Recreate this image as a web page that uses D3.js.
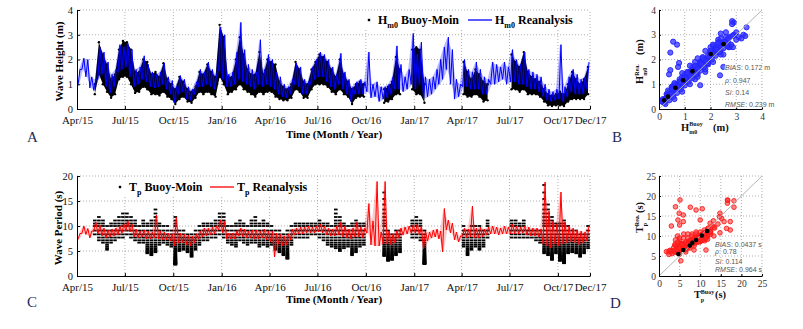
<!DOCTYPE html>
<html>
<head>
<meta charset="utf-8">
<script src="https://cdn.jsdelivr.net/npm/d3@7"></script>
<style>
  body { margin: 0; background: #fff; }
  svg { display: block; }
</style>
</head>
<body>
<svg id="fig" width="803" height="329"></svg>
<script>
// ---------------------------------------------------------------------------
// Data — 4 steps per month (about one week each), Apr 2015 .. Nov 2017
// ---------------------------------------------------------------------------

const months = [
  "2015-04","2015-05","2015-06","2015-07","2015-08","2015-09","2015-10","2015-11","2015-12",
  "2016-01","2016-02","2016-03","2016-04","2016-05","2016-06","2016-07","2016-08","2016-09",
  "2016-10","2016-11","2016-12","2017-01","2017-02","2017-03","2017-04","2017-05","2017-06",
  "2017-07","2017-08","2017-09","2017-10","2017-11"
];
const timeTicks = ["2015-04","2015-07","2015-10","2016-01","2016-04","2016-07","2016-10",
                   "2017-01","2017-04","2017-07","2017-10","2017-12"];

// Hm0 reanalysis, weekly peaks and troughs (m)
const hsReaHi = [
  1.6,2.05,2.0,1.3,  1.2,2.5,2.3,1.9,  1.4,1.6,2.6,2.5,  2.65,2.4,1.6,1.7,
  2.15,1.8,1.5,1.4,  1.5,1.85,1.3,1.15, 0.9,1.35,1.2,0.9, 0.8,1.1,1.6,1.5,
  1.9,1.6,1.4,3.3,   3.0,1.4,1.5,2.3,  3.5,2.4,1.8,1.6,  1.5,2.8,1.6,2.2,
  2.0,1.5,1.3,1.0,   0.9,1.2,1.85,1.7, 1.2,1.1,1.7,2.0,  2.3,2.2,2.0,1.7,
  1.4,2.25,1.5,1.2,  0.9,1.1,1.2,1.1,  2.3,1.0,1.1,0.9,  0.9,1.0,1.3,2.55,
  1.8,1.3,1.6,3.05,  2.2,2.7,1.3,1.2,  1.3,1.6,2.0,2.5,  2.9,2.4,1.2,1.0,
  2.0,1.6,1.5,1.9,   1.6,1.3,1.2,1.9,  1.8,1.7,1.9,1.7,  2.4,2.0,1.8,2.3,
  1.6,1.5,1.4,1.3,   1.0,0.8,0.7,0.8,  2.6,0.9,1.3,1.6,  1.4,1.2,1.3,1.9
];
const hsReaLo = [
  0.95,1.6,1.3,0.85, 0.75,1.2,1.4,0.9, 0.65,0.9,1.5,1.6, 1.7,1.3,0.9,1.0,
  1.2,1.1,0.9,0.85,  0.9,1.0,0.8,0.6,  0.25,0.6,0.7,0.4, 0.35,0.6,0.9,0.9,
  1.0,0.9,0.8,1.6,   1.2,0.9,0.9,1.0,  1.2,1.1,1.0,0.9,  0.8,1.0,0.9,1.0,
  0.9,0.8,0.6,0.5,   0.45,0.6,1.0,0.9, 0.6,0.6,1.0,1.2,  1.3,1.3,1.1,0.9,
  0.8,1.0,0.8,0.6,   0.3,0.6,0.6,0.6,  0.7,0.45,0.5,0.3, 0.4,0.45,0.6,0.8,
  0.8,0.7,0.8,1.0,   0.8,1.0,0.4,0.5,  0.6,0.8,1.0,1.2,  1.6,1.0,0.4,0.5,
  0.9,0.9,0.8,0.8,   0.8,0.6,0.6,1.0,  1.0,1.1,1.2,1.0,  1.1,1.1,1.0,1.0,
  0.9,0.8,0.8,0.7,   0.5,0.35,0.3,0.35, 0.4,0.3,0.5,0.7, 0.6,0.6,0.6,0.8
];
// Hm0 buoy Moin, weekly upper and lower edge of the dots (m); null = no buoy data
const hsBuoyHi = [
  null,null,null,null, 1.0,2.7,2.2,1.8, 1.2,1.4,2.4,2.75, 2.7,2.4,1.5,1.5,
  2.0,1.9,1.4,1.5,   1.3,1.85,1.2,1.0, 0.8,1.3,1.1,0.8,  0.7,0.9,1.5,1.4,
  1.8,1.5,1.3,3.4,   2.9,1.3,1.3,2.0,  2.9,2.2,1.6,1.4,  1.4,2.3,1.4,2.0,
  1.9,1.8,1.1,0.9,   0.8,1.0,1.9,1.6,  1.1,1.0,1.6,1.9,  2.2,2.1,1.9,1.6,
  1.3,2.0,1.4,1.1,   0.8,1.0,1.1,1.0,  null,null,null,null, 0.8,0.9,1.1,2.1,
  1.6,null,null,2.4, 2.5,2.4,1.0,null, null,null,null,null, null,null,null,null,
  1.9,1.5,1.2,1.6,   1.4,1.1,1.0,null, null,null,null,null, 2.2,1.9,1.7,2.3,
  1.5,1.3,1.2,1.1,   0.8,0.6,0.55,0.6, 0.7,0.6,1.0,1.5,  1.2,1.0,1.2,1.7
];
const hsBuoyLo = [
  null,null,null,null, 0.6,1.4,1.0,0.7, 0.45,0.6,1.2,1.3, 1.3,1.0,0.65,0.7,
  0.9,0.8,0.6,0.6,   0.55,0.7,0.5,0.4, 0.2,0.4,0.5,0.3,  0.25,0.45,0.7,0.6,
  0.7,0.6,0.5,1.3,   1.0,0.6,0.7,0.8,  1.0,0.8,0.7,0.6,  0.5,0.7,0.6,0.7,
  0.7,0.5,0.4,0.35,  0.35,0.45,0.8,0.7, 0.45,0.45,0.8,1.0, 1.0,1.0,0.9,0.7,
  0.6,0.8,0.6,0.5,   0.2,0.45,0.5,0.5, null,null,null,null, 0.25,0.3,0.4,0.6,
  0.6,null,null,0.8, 0.6,0.6,0.25,null, null,null,null,null, null,null,null,null,
  0.6,0.5,0.5,0.6,   0.5,0.3,0.35,null, null,null,null,null, 0.8,0.8,0.7,0.8,
  0.6,0.6,0.6,0.5,   0.3,0.15,0.12,0.15, 0.15,0.12,0.3,0.4, 0.4,0.4,0.4,0.6
];

// Tp reanalysis, weekly peaks and troughs (s)
const tpReaHi = [
  8.5,10.0,9.5,9.0,  10.8,10.2,9.6,9.2, 9.4,9.6,10.0,10.4, 11.0,10.4,9.4,9.0,
  9.2,9.0,8.8,12.2,  9.0,8.8,8.6,8.4,  11.8,8.6,8.4,8.2,  8.0,8.4,9.0,9.6,
  9.6,9.8,10.0,11.2, 11.0,8.6,8.6,9.0, 9.6,9.4,9.0,9.2,  9.2,9.0,9.4,9.0,
  9.0,8.6,8.4,8.0,   8.4,9.4,9.6,9.8,  9.8,10.0,9.8,10.0, 10.4,10.0,9.6,9.4,
  10.0,10.8,10.0,9.4, 9.6,10.8,9.8,9.6, 14.5,11.0,18.9,8.8, 18.9,9.0,8.4,9.0,
  9.6,9.8,10.0,10.2, 10.4,10.0,9.0,8.8, 9.2,9.4,9.0,13.5, 11.2,10.6,8.8,8.0,
  9.6,9.4,14.0,9.6,  9.8,9.4,9.8,10.0, 9.8,9.6,10.0,9.8,  10.4,10.0,9.8,10.0,
  9.8,9.6,9.6,9.4,   18.8,13.0,11.0,10.4, 16.8,10.8,10.0,9.6, 9.2,9.0,8.8,10.0
];
const tpReaLo = [
  7.3,8.5,8.3,7.6,   9.0,8.4,8.0,7.6,  7.8,8.0,8.2,8.6,  9.0,8.8,7.8,7.6,
  7.8,7.4,7.4,7.6,   7.4,7.2,7.2,7.0,  6.0,6.6,6.6,6.2,  6.0,6.6,7.4,7.8,
  8.0,8.2,8.4,9.2,   8.6,7.4,7.4,7.4,  8.0,7.8,7.6,7.6,  7.4,7.4,7.6,7.2,
  6.8,3.8,6.4,6.0,   6.2,7.2,8.2,8.4,  8.4,8.6,8.6,8.6,  8.8,8.6,8.2,8.0,
  8.0,8.2,7.8,7.6,   7.4,7.8,7.8,7.6,  8.6,6.2,6.0,6.0,  6.4,6.4,6.2,6.6,
  7.6,8.2,8.4,8.6,   8.6,8.2,5.4,7.0,  7.6,7.8,7.4,4.8,  9.2,8.6,7.2,6.8,
  8.0,7.6,7.8,7.6,   7.6,7.8,8.2,8.4,  8.4,8.2,8.4,8.4,  8.4,8.4,8.4,8.6,
  8.2,8.0,8.0,7.8,   6.4,6.0,5.6,6.4,  6.0,6.4,6.6,6.8,  6.6,6.2,6.6,7.0
];
// Tp buoy Moin, weekly highest and lowest period bin reached (s)
const tpBuoyHi = [
  null,null,null,null, 11.1,11.8,11.1,10.0, 10.5,11.1,11.8,12.5, 12.5,11.8,11.1,10.0,
  11.1,10.5,11.1,13.3, 10.5,10.0,10.0,9.1, 11.8,9.1,9.1,8.3, 8.3,9.1,10.0,10.5,
  10.5,10.5,11.1,12.5, 12.5,10.0,10.0,10.5, 11.1,10.5,10.0,11.1, 11.8,10.5,11.1,10.5,
  10.0,9.1,9.1,8.3,  9.1,10.0,10.5,10.5, 10.5,10.5,10.5,10.5, 11.1,10.5,10.5,10.0,
  13.3,11.8,10.5,10.0, 10.5,11.1,10.5,10.5, null,null,null,null, 16.7,9.1,8.3,9.1,
  9.1,null,null,11.1, 11.8,11.1,9.1,null, null,null,null,null, null,null,null,null,
  10.0,9.1,10.0,10.0, 10.0,9.1,11.1,null, null,null,null,null, 11.1,11.1,10.5,11.1,
  9.1,9.1,9.1,9.1,   18.2,14.3,11.8,10.5, 10.5,11.1,10.0,9.1, 9.1,8.3,8.3,10.0
];
const tpBuoyLo = [
  null,null,null,null, 8.3,7.1,6.7,5.3, 6.7,7.1,7.7,7.7, 8.3,7.7,7.1,6.7,
  6.7,4.4,4.2,4.8,   6.3,6.7,6.3,5.9,  2.3,5.0,5.3,4.8,  3.8,5.3,6.3,7.1,
  7.1,7.7,7.7,8.3,   7.7,6.7,6.3,5.9,  7.1,6.7,6.3,6.7,  6.7,5.9,6.3,5.9,
  6.3,5.3,4.8,4.2,   3.4,6.3,7.7,7.7,  7.7,7.7,8.3,8.3,  7.7,7.1,6.3,5.9,
  5.6,5.0,5.6,5.9,   4.2,4.8,5.9,6.3,  null,null,null,null, 4.0,3.0,3.2,4.2,
  4.8,null,null,7.7, 7.7,7.1,2.4,null, null,null,null,null, null,null,null,null,
  5.9,4.2,5.3,5.9,   5.3,5.9,7.7,null, null,null,null,null, 7.7,7.7,7.7,7.7,
  7.7,7.7,7.1,6.7,   4.4,4.2,3.2,4.4,  3.0,2.6,4.4,4.8,  4.4,3.8,4.4,5.6
];
// period bins the buoy reports (s)
const tpBins = [2.27,2.33,2.38,2.44,2.5,2.56,2.63,2.7,2.78,2.86,2.94,3.03,3.13,3.23,3.33,
  3.45,3.57,3.7,3.85,4.0,4.17,4.35,4.55,4.76,5.0,5.26,5.56,5.88,6.25,6.67,7.14,7.69,8.33,
  9.09,10.0,10.5,11.1,11.8,12.5,13.3,14.3,15.4,16.7,18.2];

// Scatter B — binned means and points outside the weekly pairs
const hsBinBuoy = [0.2,0.35,0.64,0.94,1.3,2.01,2.51];
const hsBinRea  = [0.35,0.5,0.86,1.16,1.53,2.22,2.62];
const hsExtraBuoy = [0.55,0.44,0.78,0.74,0.44,0.39,2.84,2.84,3.0,2.76,3.28,3.35,1.6,2.37,2.5,2.87,2.6,3.1,3.2,
  0.3,0.5,0.8,1.1,1.4,1.7,2.0,2.3,2.6,0.6,0.9,1.2,1.5,1.8,2.1,2.4,2.8,3.0,0.25,0.9,1.6,2.2,
  0.3,0.45,0.55,0.7,0.85,1.0,1.15,1.3,1.45,1.6,1.75,1.9,2.05,2.2,2.35,2.5,2.65,
  0.4,0.55,0.7,0.85,1.0,1.15,1.3,1.45,1.6,1.75,1.9,2.05,2.2,2.35,2.5,2.65,
  0.35,0.6,0.9,1.2,1.5,1.8,2.1,2.4,
  0.25,0.4,0.5,0.65,0.75,0.9,1.05,1.2,1.35,1.5,1.65,1.8,1.95,2.1,2.25,2.4,2.55,2.7,2.85,
  0.5,0.8,1.1,1.4,1.7,2.0,2.3];
const hsExtraRea  = [2.72,2.28,1.86,1.7,1.57,1.4,3.55,3.43,3.1,2.92,3.0,2.95,0.96,1.36,1.7,2.5,3.1,2.9,2.85,
  0.6,0.9,1.2,1.5,1.9,2.1,2.5,2.7,2.9,0.4,0.7,1.0,1.3,1.6,1.9,2.2,2.6,2.8,0.2,1.3,1.9,2.5,
  0.45,0.6,0.75,0.95,1.1,1.3,1.4,1.6,1.7,1.85,2.0,2.15,2.3,2.4,2.55,2.7,2.8,
  0.35,0.5,0.65,0.8,0.95,1.1,1.25,1.4,1.55,1.7,1.85,2.0,2.15,2.3,2.45,2.55,
  0.75,1.05,1.45,1.75,2.05,2.35,2.6,2.85,
  0.4,0.55,0.65,0.8,0.9,1.05,1.2,1.35,1.5,1.65,1.8,1.95,2.1,2.25,2.4,2.55,2.7,2.85,2.95,
  0.8,1.1,1.45,1.75,2.05,2.35,2.65];
const hsStats = [["BIAS", ": 0.172 m"], ["\u03c1", ": 0.947"], ["SI", ": 0.14"], ["RMSE", ": 0.239 m"]];

// Scatter D
const tpBinBuoy = [4.7,5.9,7.5,8.1,9.0,10.4,11.7];
const tpBinRea  = [5.5,6.5,7.6,8.3,9.0,10.1,11.25];
const tpExtraBuoy = [5.1,4.0,4.9,5.9,4.6,5.9,5.0,7.6,9.0,3.0,16.6,16.6,18.2,14.8,14.7,15.8,17.3,16.4,14.8,17.3,1.8,3.8,11.4,12.4,13.2,15.2,
  4.0,4.5,5.0,6.0,6.0,7.0,7.0,8.0,9.0,10.0,11.0,12.0,13.0,5.0,6.5,8.5,
  4.5,5.0,5.5,6.0,6.5,7.0,7.5,8.0,8.5,9.0,9.5,10.0,10.5,11.0,4.0,5.0,6.0,7.0,8.0,9.0,
  6.5,7.5,8.5,9.5,10.5,11.5,12.5,13.5,3.5,4.5];
const tpExtraRea  = [19.0,17.3,15.7,15.25,14.0,13.6,12.75,17.2,16.5,12.5,19.0,18.2,17.2,15.7,14.8,13.6,13.6,11.9,10.8,11.5,6.1,7.75,6.5,13.2,13.8,14.4,
  8.0,10.0,9.0,10.5,8.0,10.5,7.0,10.5,11.0,11.0,11.5,12.0,12.5,5.5,6.0,6.5,
  6.5,7.0,8.0,7.0,8.5,8.0,9.0,8.5,9.5,9.5,10.0,10.0,10.5,10.5,9.0,9.5,9.5,9.5,10.0,10.5,
  6.5,7.0,7.5,8.5,9.0,9.5,11.0,12.0,7.0,8.5];
const tpStats = [["BIAS", ": 0.0437 s"], ["\u03c1", ": 0.78"], ["SI", ": 0.114"], ["RMSE", ": 0.964 s"]];

const hsTicks = [0, 1, 2, 3, 4];
const tpTicks = [0, 5, 10, 15, 20];
const tpScatterTicks = [0, 5, 10, 15, 20, 25];

// ---------------------------------------------------------------------------
// Helpers
// ---------------------------------------------------------------------------

const SERIF = '"Liberation Serif","Times New Roman",serif';
const SANS = '"Liberation Sans",Arial,sans-serif';
const svg = d3.select("#fig");

const parseMonth = s => { const [y, m] = s.split("-").map(Number); return new Date(Date.UTC(y, m - 1, 1)); };

function stepTime(k, frac) {
  const start = parseMonth(months[Math.floor(k / 4)]);
  const end = new Date(Date.UTC(start.getUTCFullYear(), start.getUTCMonth() + 1, 1));
  return new Date(+start + (end - start) * ((k % 4) + frac) / 4);
}

function zigzag(hi, lo) {
  const pts = [];
  hi.forEach((h, k) => {
    pts.push([stepTime(k, 0.25), lo[k]]);
    pts.push([stepTime(k, 0.75), h]);
  });
  return pts;
}

function styleAxis(g, size) {
  g.select(".domain").attr("stroke", "#000");
  g.selectAll(".tick line").attr("stroke", "#000");
  g.selectAll(".tick text").attr("fill", "#111").attr("font-family", SERIF).attr("font-size", size);
}

function grid(g, xs, ys, x, y) {
  const [x0, x1] = x.range(), [y0, y1] = y.range();
  g.selectAll(".vg").data(xs).join("line")
    .attr("x1", d => x(d)).attr("x2", d => x(d)).attr("y1", y0).attr("y2", y1);
  g.selectAll(".hg").data(ys).join("line")
    .attr("x1", x0).attr("x2", x1).attr("y1", d => y(d)).attr("y2", d => y(d));
  g.selectAll("line").attr("stroke", "#9a9a9a").attr("stroke-width", 0.8).attr("stroke-dasharray", "1,2");
}

const x = d3.scaleUtc().domain([parseMonth("2015-04"), parseMonth("2017-12")]).range([77, 590]);
const tickDates = timeTicks.map(parseMonth);

// ---------------------------------------------------------------------------
// Time series panels
// ---------------------------------------------------------------------------

function timePanel(o) {
  const y = d3.scaleLinear().domain([o.ticks[0], o.ticks[o.ticks.length - 1]]).range(o.yRange);
  const g = svg.append("g");

  const gg = g.append("g");
  grid(gg, tickDates.slice(1), o.ticks.slice(1), x, y);

  o.drawBuoy(g, y);

  // reanalysis: faint envelope of the weekly swing, then the zigzag line itself
  const band = o.reaHi.map((h, k) => ({ t: stepTime(k, 0.5), hi: h, lo: o.reaLo[k] }));
  g.append("path").datum(band)
    .attr("fill", o.color).attr("fill-opacity", o.bandOpacity)
    .attr("d", d3.area().x(d => x(d.t)).y0(d => y(d.lo)).y1(d => y(d.hi)));

  g.append("path")
    .datum(zigzag(o.reaHi, o.reaLo))
    .attr("fill", "none")
    .attr("stroke", o.color)
    .attr("stroke-width", 1)
    .attr("stroke-linejoin", "round")
    .attr("d", d3.line().x(d => x(d[0])).y(d => y(d[1])));

  g.append("g").attr("transform", `translate(0,${o.yRange[0]})`)
    .call(d3.axisBottom(x).tickValues(tickDates).tickFormat(d3.utcFormat("%b/%y"))
      .tickSizeInner(-3).tickSizeOuter(0).tickPadding(7))
    .call(a => styleAxis(a, 11));

  g.append("g").attr("transform", "translate(77,0)")
    .call(d3.axisLeft(y).tickValues(o.ticks).tickFormat(d3.format("d"))
      .tickSizeInner(-3).tickSizeOuter(0).tickPadding(4))
    .call(a => styleAxis(a, 10.5));

  g.append("text")
    .attr("transform", `translate(${o.yLabelX},${(o.yRange[0] + o.yRange[1]) / 2 + 2}) rotate(-90)`)
    .attr("text-anchor", "middle").attr("font-family", SERIF).attr("font-weight", "bold")
    .attr("font-size", 11).text(o.yLabel);

  g.append("text")
    .attr("x", 334).attr("y", o.xLabelY)
    .attr("text-anchor", "middle").attr("font-family", SERIF).attr("font-weight", "bold")
    .attr("font-size", 11).text("Time (Month / Year)");

  // legend
  const L = o.legend;
  const lg = g.append("g").attr("font-family", SERIF).attr("font-weight", "bold");
  lg.append("rect").attr("x", L.x - 7).attr("y", L.y - 9).attr("width", L.w).attr("height", 19).attr("fill", "#fff");
  lg.append("rect").attr("x", L.x - 1.2).attr("y", L.y - 1.2).attr("width", 2.4).attr("height", 2.4).attr("fill", "#000");
  const t1 = lg.append("text").attr("x", L.x + 9).attr("y", L.y + 4).attr("font-size", 12);
  t1.append("tspan").text(o.sym);
  t1.append("tspan").attr("font-size", 8).attr("dy", 3.5).text(o.sub);
  t1.append("tspan").attr("dy", -3.5).text(" Buoy-Moin");
  lg.append("line").attr("x1", L.lx).attr("x2", L.lx + 24).attr("y1", L.y).attr("y2", L.y)
    .attr("stroke", o.color).attr("stroke-width", 1.3);
  const t2 = lg.append("text").attr("x", L.lx + 27).attr("y", L.y + 4).attr("font-size", 12);
  t2.append("tspan").text(o.sym);
  t2.append("tspan").attr("font-size", 8).attr("dy", 3.5).text(o.sub);
  t2.append("tspan").attr("dy", -3.5).text(" Reanalysis");
}

timePanel({
  ticks: hsTicks, yRange: [109, 10], color: "#0000ff", bandOpacity: 0.28,
  reaHi: hsReaHi, reaLo: hsReaLo,
  yLabel: "Wave Height (m)", yLabelX: 63, xLabelY: 138,
  sym: "H", sub: "m0",
  legend: { x: 369, y: 20, lx: 468, w: 210 },
  drawBuoy: (g, y) => {
    const pts = hsBuoyHi.map((h, k) => ({ t: stepTime(k, 0.5), hi: h, lo: hsBuoyLo[k] }));
    g.append("path").datum(pts)
      .attr("fill", "#000")
      .attr("d", d3.area().defined(d => d.hi !== null)
        .x(d => x(d.t)).y0(d => y(d.lo)).y1(d => y(d.hi)));
    g.append("g").selectAll("circle")
      .data(pts.filter(d => d.hi !== null).flatMap(d => [[d.t, d.hi], [d.t, d.lo]]))
      .join("circle").attr("cx", d => x(d[0])).attr("cy", d => y(d[1])).attr("r", 1.2).attr("fill", "#000");
  }
});

timePanel({
  ticks: tpTicks, yRange: [276, 176], color: "#ff0000", bandOpacity: 0.22,
  reaHi: tpReaHi, reaLo: tpReaLo,
  yLabel: "Wave Period (s)", yLabelX: 62, xLabelY: 303,
  sym: "T", sub: "p",
  legend: { x: 120, y: 187, lx: 210, w: 192 },
  drawBuoy: (g, y) => {
    const rows = [];
    tpBuoyHi.forEach((h, k) => {
      if (h === null) return;
      tpBins.filter(b => b >= tpBuoyLo[k] - 0.05 && b <= h + 0.05)
        .forEach(b => rows.push({ t0: stepTime(k, 0.05), t1: stepTime(k, 0.95), v: b }));
    });
    g.append("g").selectAll("rect").data(rows).join("rect")
      .attr("x", d => x(d.t0)).attr("width", d => x(d.t1) - x(d.t0))
      .attr("y", d => y(d.v) - 0.9).attr("height", 1.8).attr("fill", "#000");
  }
});

// ---------------------------------------------------------------------------
// Scatter panels
// ---------------------------------------------------------------------------

function scatterPanel(o) {
  const sx = d3.scaleLinear().domain(o.domain).range([659, 762]);
  const sy = d3.scaleLinear().domain(o.domain).range(o.yRange);
  const g = svg.append("g");
  const id = "clip" + o.name;
  g.append("clipPath").attr("id", id).append("rect")
    .attr("x", 659).attr("y", o.yRange[1]).attr("width", 103).attr("height", o.yRange[0] - o.yRange[1]);

  grid(g.append("g"), o.ticks.slice(1), o.ticks.slice(1), sx, sy);

  const pts = [];
  o.buoyHi.forEach((h, k) => {
    if (h === null) return;
    pts.push([h, o.reaHi[k]], [o.buoyLo[k], o.reaLo[k]]);
  });
  o.extraBuoy.forEach((b, i) => pts.push([b, o.extraRea[i]]));

  const pg = g.append("g").attr("clip-path", `url(#${id})`);
  pg.selectAll("circle").data(pts).join("circle")
    .attr("cx", d => sx(d[0])).attr("cy", d => sy(d[1])).attr("r", o.r)
    .attr("fill", o.fill).attr("stroke", o.color).attr("stroke-width", 0.9);

  pg.append("line")
    .attr("x1", sx(o.domain[0])).attr("y1", sy(o.domain[0]))
    .attr("x2", sx(o.domain[1])).attr("y2", sy(o.domain[1]))
    .attr("stroke", "#b4b4b4").attr("stroke-width", 1);

  pg.selectAll(".bin").data(o.binBuoy).join("circle")
    .attr("cx", d => sx(d)).attr("cy", (d, i) => sy(o.binRea[i])).attr("r", 2.3).attr("fill", "#000");

  g.append("g").attr("transform", `translate(0,${o.yRange[0]})`)
    .call(d3.axisBottom(sx).tickValues(o.ticks).tickFormat(d3.format("d"))
      .tickSizeInner(-2).tickSizeOuter(0).tickPadding(4))
    .call(a => styleAxis(a, 9.5));
  g.append("g").attr("transform", "translate(659,0)")
    .call(d3.axisLeft(sy).tickValues(o.ticks).tickFormat(d3.format("d"))
      .tickSizeInner(-2).tickSizeOuter(0).tickPadding(3))
    .call(a => styleAxis(a, 9.5));
  g.selectAll(".tick text").attr("fill", "#333");

  const st = g.append("g").attr("font-family", SANS).attr("font-size", 7).attr("fill", "#555")
    .attr("stroke", "#fff").attr("stroke-width", 1.6).attr("paint-order", "stroke");
  o.stats.forEach((s, i) => {
    const t = st.append("text").attr("x", o.statX).attr("y", o.statY[i]);
    t.append("tspan").attr("font-style", "italic").text(s[0]);
    t.append("tspan").text(s[1]);
  });

  // axis labels with stacked sub/superscripts
  const lab = g.append("g").attr("font-family", SERIF).attr("font-weight", "bold").attr("fill", "#111");
  const xl = o.xLab;
  lab.append("text").attr("x", xl.x).attr("y", xl.y).attr("font-size", 10.5).text(o.sym);
  lab.append("text").attr("x", xl.x + xl.w).attr("y", xl.y - 4.5).attr("font-size", 6).text("Buoy");
  lab.append("text").attr("x", xl.x + xl.w).attr("y", xl.y + 3.5).attr("font-size", 6).text(o.sub);
  lab.append("text").attr("x", xl.ux).attr("y", xl.y).attr("font-size", 10.5).text(o.unit);

  const yl = o.yLab;
  const r = lab.append("g").attr("transform", `translate(643,0) rotate(-90)`);
  r.append("text").attr("x", -yl.start).attr("y", 0).attr("font-size", 10.5).text(o.sym);
  r.append("text").attr("x", -yl.start + xl.w).attr("y", -4.5).attr("font-size", 6).text("Rea.");
  r.append("text").attr("x", -yl.start + xl.w).attr("y", 3.5).attr("font-size", 6).text(o.sub);
  r.append("text").attr("x", -yl.unit).attr("y", 0).attr("font-size", 10.5).text(o.unit);
}

scatterPanel({
  name: "B", domain: [0, 4], yRange: [109, 10], ticks: hsTicks, r: 2.6,
  color: "#2424ff", fill: "rgba(50,50,255,0.75)",
  buoyHi: hsBuoyHi, buoyLo: hsBuoyLo, reaHi: hsReaHi, reaLo: hsReaLo,
  extraBuoy: hsExtraBuoy, extraRea: hsExtraRea,
  binBuoy: hsBinBuoy, binRea: hsBinRea,
  stats: hsStats, statX: 725, statY: [70, 82.5, 95, 107],
  sym: "H", sub: "m0", unit: "(m)",
  xLab: { x: 681, y: 130.5, w: 8.3, ux: 713 },
  yLab: { start: 84, unit: 55 }
});

scatterPanel({
  name: "D", domain: [0, 25], yRange: [276, 176], ticks: tpScatterTicks, r: 2.3,
  color: "#ff1a1a", fill: "rgba(255,40,40,0.55)",
  buoyHi: tpBuoyHi, buoyLo: tpBuoyLo, reaHi: tpReaHi, reaLo: tpReaLo,
  extraBuoy: tpExtraBuoy, extraRea: tpExtraRea,
  binBuoy: tpBinBuoy, binRea: tpBinRea,
  stats: tpStats, statX: 715, statY: [247, 253.5, 264, 272],
  sym: "T", sub: "p", unit: "(s)",
  xLab: { x: 694, y: 298, w: 6.8, ux: 715 },
  yLab: { start: 233, unit: 213 }
});

// ---------------------------------------------------------------------------
// Panel letters
// ---------------------------------------------------------------------------

const letters = [["A", 27, 142], ["B", 612, 142], ["C", 27, 307], ["D", 610, 308]];
svg.append("g").selectAll("text").data(letters).join("text")
  .attr("x", d => d[1]).attr("y", d => d[2])
  .attr("font-family", SERIF).attr("font-size", 15).attr("fill", "#1c2b5a")
  .text(d => d[0]);
</script>
</body>
</html>
